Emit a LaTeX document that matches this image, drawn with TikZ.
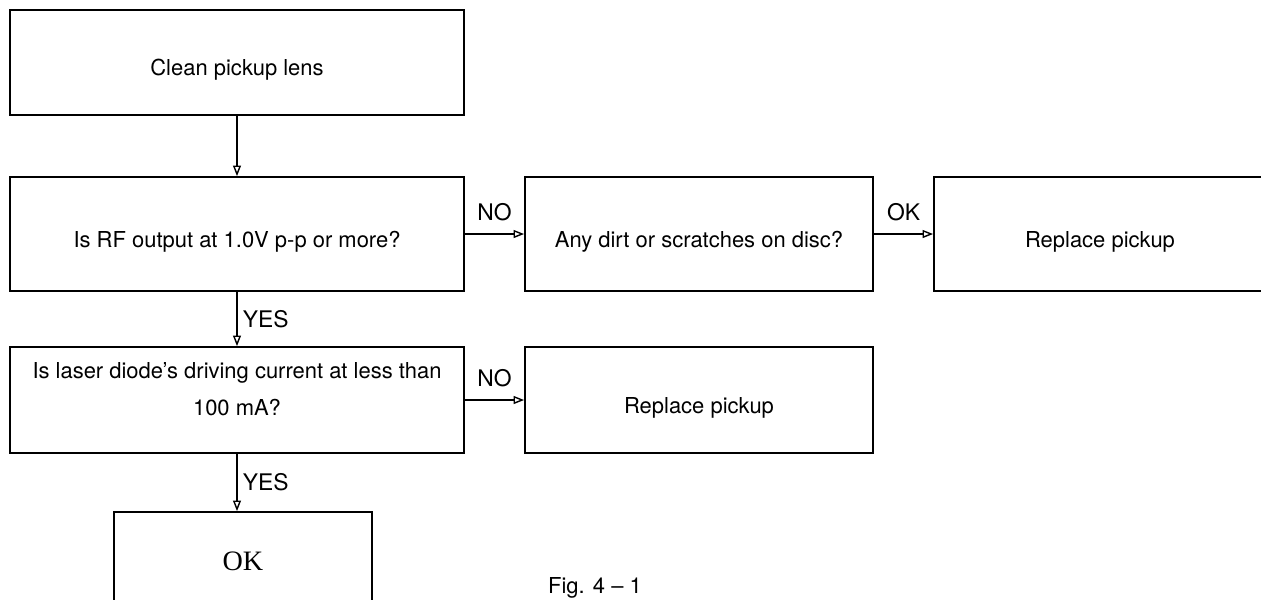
\documentclass[tikz,border=0pt]{standalone}
\usepackage{fontspec}
\setmainfont{TeX Gyre Heros}
\newfontfamily\okfont{Liberation Serif}
\usetikzlibrary{arrows.meta}

\begin{document}
\begin{tikzpicture}[
  x=0.2mm, y=-0.2mm,
  font=\fontsize{12.5}{15}\selectfont,
  box/.style={draw=black, line width=1pt, inner sep=0pt, align=center, text height=18pt},
  lbl/.style={inner sep=0pt, font=\fontsize{13}{15}\selectfont},
  flow/.style={draw=black, line width=0.8pt, -{Triangle[open,length=6pt,width=4.5pt]}}
]
\useasboundingbox (0,0) rectangle (1261,599);
\clip (0,0) rectangle (1261,599);
\node[box, minimum width=90.8mm, minimum height=21mm] (clean) at (237,62.5) {Clean pickup lens};
\node[box, minimum width=90.8mm, minimum height=22.8mm] (rf) at (237,234) {Is RF output at 1.0V p-p or more?};
\draw[flow] (clean) -- (rf);
\node[box, minimum width=69.6mm, minimum height=22.8mm] (dirt) at (699,234) {Any dirt or scratches on disc?};
\draw[flow] (rf) -- node[lbl, above=7pt] {NO} (dirt);
\node[box, minimum width=66.4mm, minimum height=22.8mm] (pickupa) at (1100,234) {Replace pickup};
\draw[flow] (dirt) -- node[lbl, above=7pt] {OK} (pickupa);
\node[box, minimum width=90.8mm, minimum height=21.2mm] (laser) at (237,400) {Is laser diode's driving current at less than\\[6pt]100 mA?};
\draw[flow] (rf) -- node[lbl, right=3pt] {YES} (laser);
\node[box, minimum width=69.6mm, minimum height=21.2mm] (pickupb) at (699,400) {Replace pickup};
\draw[flow] (laser) -- node[lbl, above=7pt] {NO} (pickupb);
\node[box, text height=, minimum width=51.6mm, minimum height=19.6mm, font=\okfont\fontsize{16}{19}\selectfont] (ok) at (243,561) {OK};
\draw[flow] (laser.south) -- node[lbl, right=3pt] {YES} (laser.south |- ok.north);
\node[anchor=base] (fig) at (595,593) {Fig. 4 -- 1};
\end{tikzpicture}
\end{document}
